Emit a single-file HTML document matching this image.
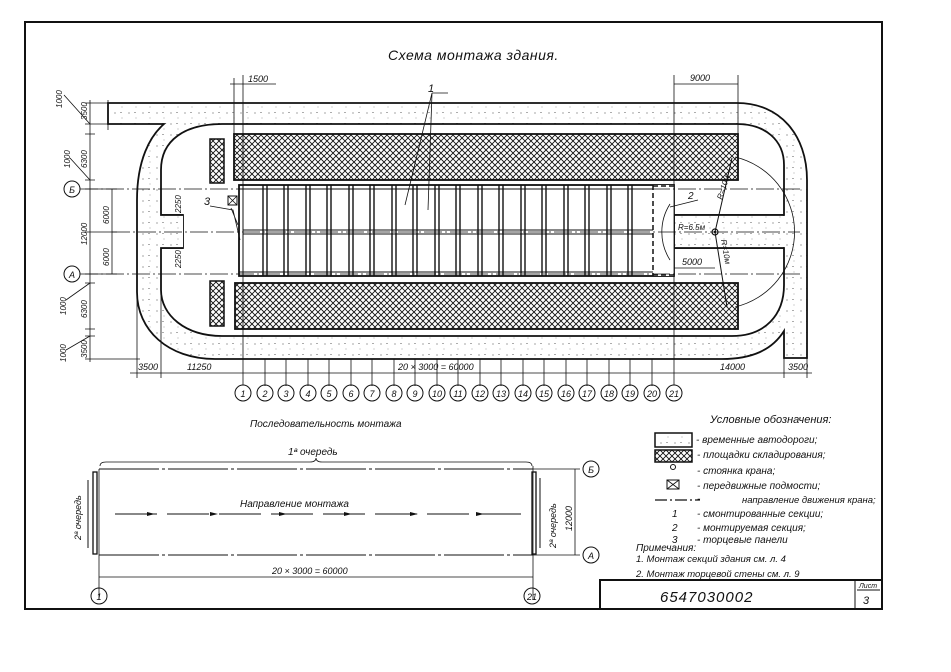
<!DOCTYPE html>
<html><head><meta charset="utf-8"><style>
html,body{margin:0;padding:0;background:#fff;}
svg{display:block;}
text{font-family:"Liberation Sans",sans-serif;font-style:italic;fill:#111;}
</style></head><body>
<svg width="951" height="672" viewBox="0 0 951 672" xmlns="http://www.w3.org/2000/svg">
<defs>
<pattern id="dots" width="14" height="11" patternUnits="userSpaceOnUse">
<rect width="14" height="11" fill="#fff"/>
<circle cx="3" cy="3" r="0.6" fill="#666"/><circle cx="10" cy="8" r="0.5" fill="#888"/><rect x="8" y="2" width="2" height="0.7" fill="#888"/>
</pattern>
<pattern id="hatch" width="6" height="6" patternUnits="userSpaceOnUse">
<rect width="6" height="6" fill="#fff"/>
<path d="M0,0 L6,6 M6,0 L0,6" stroke="#111" stroke-width="0.9"/>
</pattern>
</defs>
<g fill="none" stroke="#111">
<path d="M25,22 L882,22 L882,609 L25,609 Z" stroke-width="2"/>
<path d="M108,103 L737,103 C780,103 807,135 807,180 L807,358 L784,358 L784,331 C772,350 752,359 722,359 L215,359 C168,359 137,330 137,292 L137,200 C137,160 150,136 164,124 L108,124 Z" fill="url(#dots)" stroke-width="1.8"/>
<path d="M222,124 L737,124 C765,124 784,140 784,165 L784,215 L674,215 L674,248 L784,248 L784,285 C784,315 765,336 732,336 L222,336 C185,336 161,315 161,290 L161,248 L183,248 L183,215 L161,215 L161,170 C161,140 185,124 222,124 Z" fill="#fff" stroke-width="1.8"/>
<rect x="161" y="215" width="22" height="33" fill="url(#dots)" stroke="none"/>
<rect x="675" y="215" width="108" height="33" fill="url(#dots)" stroke="none"/>
<path d="M161,215 L183,215 M161,248 L183,248 M674,215 L784,215 M674,248 L784,248" stroke-width="1.8"/>
<rect x="234" y="134" width="504" height="46" fill="url(#hatch)" stroke-width="1.8"/>
<rect x="235" y="283" width="503" height="46" fill="url(#hatch)" stroke-width="1.8"/>
<rect x="210" y="139" width="14" height="44" fill="url(#hatch)" stroke-width="1.5"/>
<rect x="210" y="281" width="14" height="45" fill="url(#hatch)" stroke-width="1.5"/>
<rect x="239" y="185" width="435" height="91" fill="#fff" stroke-width="1.8"/>
<path d="M243,185 L243,276 M239,189 L674,189 M239,272 L674,272 M243,230 L653,230 M243,234 L653,234" stroke-width="1"/>
<g stroke-width="1.4">
<path d="M263,185V276M267,185V276M284,185V276M288,185V276M306,185V276M310,185V276M327,185V276M331,185V276M349,185V276M353,185V276M370,185V276M374,185V276M392,185V276M396,185V276M413,185V276M417,185V276M435,185V276M439,185V276M456,185V276M460,185V276M478,185V276M482,185V276M499,185V276M503,185V276M521,185V276M525,185V276M542,185V276M546,185V276M564,185V276M568,185V276M585,185V276M589,185V276M607,185V276M611,185V276M628,185V276M632,185V276"/>
</g>
<rect x="653" y="185" width="21" height="91" fill="#fff" stroke="none"/>
<path d="M653,185 L653,276 M653,186 L674,186 M653,275 L674,275" stroke-width="1.5" stroke-dasharray="5,3"/>
<path d="M80,189 L800,189 M80,274 L800,274 M112,232 L800,232" stroke-width="0.8" stroke-dasharray="18,3,2,3"/>
<path d="M243,75 L243,385 M674,75 L674,385" stroke-width="0.8"/>
<path d="M234,78 L234,134 M738,75 L738,134 M90,100 L90,362 M108,100 L108,130 M112,189 L112,274 M137,292 L137,378 M161,290 L161,378 M784,358 L784,378 M807,358 L807,378" stroke-width="0.8"/>
<path d="M85,103H113M85,124H113M85,134H95M85,180H95M85,189H117M85,232H117M85,274H117M85,283H95M85,329H95M85,336H95M85,359H140" stroke-width="0.8"/>
<path d="M64,95 L90,124 M70,158 L90,180 M66,300 L90,283 M66,350 L90,336" stroke-width="0.8"/>
<path d="M130,373 L812,373 M230,84 L276,84 M674,84 L738,84 M674,268 L715,268" stroke-width="0.8"/>
<path d="M265,386V359M286,386V359M308,386V359M329,386V359M351,386V359M372,386V359M394,386V359M415,386V359M437,386V359M458,386V359M480,386V359M501,386V359M523,386V359M544,386V359M566,386V359M587,386V359M609,386V359M630,386V359M652,386V359" stroke-width="0.8"/>
<circle cx="715" cy="232" r="3" stroke-width="1.2"/>
<path d="M715,232 L732,158 M715,232 L727,307" stroke-width="1"/>
<path d="M735,157 A77,77 0 0 1 735,307" stroke-width="0.8"/>
<path d="M670,204 A52,52 0 0 0 670,260" stroke-width="0.8"/>
<path d="M670,207 L698,200 M210,206 L233,210 L240,240 M231,208 L238,225" stroke-width="0.8"/>
<path d="M432,93 L405,205 M432,93 L428,210 M432,93 L448,93" stroke-width="0.8"/>
<rect x="228" y="196" width="9" height="9" stroke-width="1"/>
<path d="M228,196 L237,205 M237,196 L228,205" stroke-width="0.8"/>
<g stroke-width="1">
<circle cx="72" cy="189" r="8"/><circle cx="72" cy="274" r="8"/>
<circle cx="243" cy="393" r="8"/><circle cx="265" cy="393" r="8"/><circle cx="286" cy="393" r="8"/><circle cx="308" cy="393" r="8"/><circle cx="329" cy="393" r="8"/><circle cx="351" cy="393" r="8"/><circle cx="372" cy="393" r="8"/><circle cx="394" cy="393" r="8"/><circle cx="415" cy="393" r="8"/><circle cx="437" cy="393" r="8"/><circle cx="458" cy="393" r="8"/><circle cx="480" cy="393" r="8"/><circle cx="501" cy="393" r="8"/><circle cx="523" cy="393" r="8"/><circle cx="544" cy="393" r="8"/><circle cx="566" cy="393" r="8"/><circle cx="587" cy="393" r="8"/><circle cx="609" cy="393" r="8"/><circle cx="630" cy="393" r="8"/><circle cx="652" cy="393" r="8"/><circle cx="674" cy="393" r="8"/>
</g>
<rect x="655" y="433" width="37" height="14" fill="url(#dots)" stroke-width="1.5"/>
<rect x="655" y="450" width="37" height="12" fill="url(#hatch)" stroke-width="1.5"/>
<circle cx="673" cy="467" r="2.5" stroke-width="1"/>
<rect x="667" y="480" width="12" height="9" stroke-width="1"/>
<path d="M667,480 L679,489 M679,480 L667,489" stroke-width="0.8"/>
<path d="M655,500 L700,500" stroke-width="1.2" stroke-dasharray="12,3,2,3"/>
<rect x="600" y="580" width="282" height="29" stroke-width="2"/>
<path d="M855,580 L855,609 M857,590 L880,590" stroke-width="1"/>
<path d="M99,469 L533,469 M99,555 L533,555" stroke-width="1" stroke-dasharray="60,3,3,3"/>
<path d="M99,469 L99,600 M533,466 L533,600 M533,469 L580,469 M533,555 L580,555 M575,469 L575,555 M99,577 L533,577" stroke-width="0.8"/>
<path d="M100,466 Q100,462 106,462 L310,462 Q316,462 316,458 Q316,462 322,462 L526,462 Q532,462 532,466" stroke-width="0.8"/>
<rect x="93" y="472" width="4" height="82" stroke-width="1.3"/>
<rect x="532" y="472" width="4" height="82" stroke-width="1.3"/>
<path d="M540,478 L540,548 M88,480 L88,548" stroke-width="1"/>
<path d="M115,514 L525,514" stroke-width="1" stroke-dasharray="42,10"/>
<circle cx="99" cy="596" r="8" stroke-width="1"/><circle cx="532" cy="596" r="8" stroke-width="1"/>
<circle cx="591" cy="469" r="8" stroke-width="1"/><circle cx="591" cy="555" r="8" stroke-width="1"/>
</g>
<g fill="#111">
<path d="M155,514 l-8,-2 v4z M218,514 l-8,-2 v4z M287,514 l-8,-2 v4z M352,514 l-8,-2 v4z M418,514 l-8,-2 v4z M484,514 l-8,-2 v4z"/>
<circle cx="715" cy="232" r="1.2"/>
</g>
<text x="388" y="60" font-size="14" letter-spacing="0.5">Схема монтажа здания.</text>
<text x="428" y="92" font-size="11">1</text>
<text x="204" y="205" font-size="11">3</text>
<text x="688" y="199" font-size="10">2</text>
<text x="248" y="82" font-size="9">1500</text>
<text x="690" y="81" font-size="9">9000</text>
<text x="678" y="230" font-size="8">R=6.5м</text>
<text x="682" y="265" font-size="9">5000</text>
<text font-size="8" transform="translate(722,200) rotate(-72)">R=10м</text>
<text font-size="8" transform="translate(721,240) rotate(80)">R=10м</text>
<g font-size="8">
<text transform="translate(62,108) rotate(-90)">1000</text>
<text transform="translate(87,120) rotate(-90)">3500</text>
<text transform="translate(70,168) rotate(-90)">1000</text>
<text transform="translate(87,168) rotate(-90)">6300</text>
<text transform="translate(109,224) rotate(-90)">6000</text>
<text transform="translate(109,266) rotate(-90)">6000</text>
<text transform="translate(87,245) rotate(-90)">12000</text>
<text transform="translate(66,315) rotate(-90)">1000</text>
<text transform="translate(87,318) rotate(-90)">6300</text>
<text transform="translate(66,362) rotate(-90)">1000</text>
<text transform="translate(87,358) rotate(-90)">3500</text>
<text transform="translate(181,213) rotate(-90)">2250</text>
<text transform="translate(181,268) rotate(-90)">2250</text>
</g>
<text x="138" y="370" font-size="9">3500</text>
<text x="187" y="370" font-size="9">11250</text>
<text x="398" y="370" font-size="9">20 × 3000 = 60000</text>
<text x="720" y="370" font-size="9">14000</text>
<text x="788" y="370" font-size="9">3500</text>
<g font-size="9" text-anchor="middle">
<text x="72" y="193">Б</text><text x="72" y="278">А</text>
<text x="243" y="397">1</text><text x="265" y="397">2</text><text x="286" y="397">3</text><text x="308" y="397">4</text><text x="329" y="397">5</text><text x="351" y="397">6</text><text x="372" y="397">7</text><text x="394" y="397">8</text><text x="415" y="397">9</text><text x="437" y="397">10</text><text x="458" y="397">11</text><text x="480" y="397">12</text><text x="501" y="397">13</text><text x="523" y="397">14</text><text x="544" y="397">15</text><text x="566" y="397">16</text><text x="587" y="397">17</text><text x="609" y="397">18</text><text x="630" y="397">19</text><text x="652" y="397">20</text><text x="674" y="397">21</text>
<text x="99" y="600">1</text><text x="532" y="600">21</text>
<text x="591" y="473">Б</text><text x="591" y="559">А</text>
</g>
<text x="250" y="427" font-size="10">Последовательность    монтажа</text>
<text x="288" y="455" font-size="10">1ª очередь</text>
<text x="240" y="507" font-size="10">Направление    монтажа</text>
<text x="272" y="574" font-size="9">20 × 3000 = 60000</text>
<text font-size="9" transform="translate(81,540) rotate(-90)">2ª очередь</text>
<text font-size="9" transform="translate(556,548) rotate(-90)">2ª очередь</text>
<text font-size="9" transform="translate(572,531) rotate(-90)">12000</text>
<text x="710" y="423" font-size="11">Условные обозначения:</text>
<g font-size="10">
<text x="696" y="443">- временные автодороги;</text>
<text x="697" y="458">- площадки складирования;</text>
<text x="697" y="474">-  стоянка крана;</text>
<text x="697" y="489">-  передвижные подмости;</text>
<text x="697" y="502">-</text>
<text x="742" y="503" font-size="9.5">направление движения крана;</text>
<text x="672" y="517">1</text><text x="697" y="517">- смонтированные секции;</text>
<text x="672" y="531">2</text><text x="697" y="531">-  монтируемая секция;</text>
<text x="672" y="543">3</text><text x="697" y="543">-  торцевые панели</text>
<text x="636" y="551">Примечания:</text>
<text x="636" y="562" font-size="9.5">1. Монтаж секций  здания   см. л. 4</text>
<text x="636" y="577" font-size="9.5">2. Монтаж торцевой стены   см. л. 9</text>
</g>
<text x="660" y="602" font-size="15" font-style="normal" letter-spacing="1">6547030002</text>
<text x="859" y="588" font-size="7">Лист</text>
<text x="863" y="604" font-size="11" font-style="normal">3</text>
</svg>
</body></html>
